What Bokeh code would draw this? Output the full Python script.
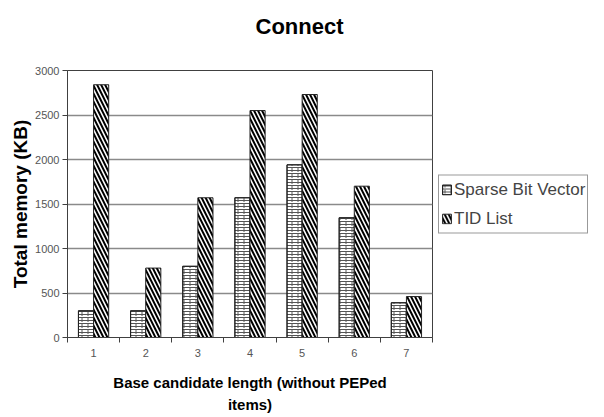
from bokeh.plotting import figure
from bokeh.models import (FixedTicker, Legend, LegendItem, Range1d, Title)
from bokeh.embed import file_html
from bokeh.resources import INLINE
import numpy as np

categories = [1, 2, 3, 4, 5, 6, 7]
tick_labels = ["1", "2", "3", "4", "5", "6", "7"]
sparse_bit_vector = [300, 300, 800, 1570, 1940, 1345, 390]
tid_list = [2840, 780, 1570, 2550, 2730, 1700, 460]
series_names = ["Sparse Bit Vector", "TID List"]
y_ticks = [0, 500, 1000, 1500, 2000, 2500, 3000]
chart_title = "Connect"

FONT = "Liberation Sans"
FW, FH = 365, 267

p = figure(frame_width=FW, frame_height=FH, output_backend="svg",
           toolbar_location=None,
           x_range=Range1d(0.5, 7.5), y_range=Range1d(0, 3000),
           min_border_left=67, min_border_right=172, min_border_top=70,
           min_border_bottom=80)
p.title = None
p.add_layout(Title(text=chart_title + "\n ", text_font=FONT,
                   text_font_size="22px", text_font_style="bold",
                   align="left", offset=188, standoff=14,
                   vertical_align="bottom", text_color="black"), "above")

cats = np.array(categories, dtype=float)
bw = 0.29
r1 = p.vbar(x=cats - bw / 2, top=sparse_bit_vector, width=bw,
            fill_color="white", line_color="#222222", line_width=1,
            hatch_pattern="horizontal_line", hatch_scale=3, hatch_weight=1,
            hatch_color="#555555")
r1b = p.vbar(x=cats - bw / 2, top=sparse_bit_vector, width=bw,
             fill_alpha=0, line_color="#222222", line_width=1,
             hatch_pattern="vertical_dash", hatch_scale=6, hatch_weight=1,
             hatch_color="#555555")
r2 = p.vbar(x=cats + bw / 2, top=tid_list, width=bw,
            fill_color="white", line_color="#222222", line_width=1,
            hatch_pattern="left_diagonal_line", hatch_scale=8, hatch_weight=2,
            hatch_color="black")

p.xgrid.visible = False
p.ygrid.grid_line_color = "#8a8a8a"
p.ygrid.grid_line_width = 1.5
p.ygrid.ticker = FixedTicker(ticks=y_ticks)
p.outline_line_color = "#404040"
p.outline_line_width = 1

xa = p.xaxis[0]
xa.ticker = FixedTicker(ticks=categories, minor_ticks=[c - 0.5 for c in categories] + [7.5])
xa.major_label_overrides = {c: t for c, t in zip(categories, tick_labels)}
xa.major_tick_out = 0
xa.major_tick_in = 0
xa.minor_tick_out = 5
xa.minor_tick_in = 0
xa.minor_tick_line_color = "#404040"
xa.axis_line_color = "#404040"
xa.major_label_text_font = FONT
xa.major_label_text_font_size = "11px"
xa.major_label_text_color = "#555555"
xa.major_label_standoff = 6
xa.axis_label = "Base candidate length (without PEPed\nitems)"
xa.axis_label_text_font = FONT
xa.axis_label_text_font_size = "15px"
xa.axis_label_text_font_style = "bold"
xa.axis_label_text_color = "black"
xa.axis_label_text_line_height = 1.35
xa.axis_label_standoff = 14

ya = p.yaxis[0]
ya.ticker = FixedTicker(ticks=y_ticks)
ya.major_tick_out = 5
ya.major_tick_in = 0
ya.minor_tick_out = 0
ya.minor_tick_in = 0
ya.axis_line_color = "#404040"
ya.major_tick_line_color = "#404040"
ya.major_label_text_font = FONT
ya.major_label_text_font_size = "11px"
ya.major_label_text_color = "#555555"
ya.major_label_standoff = 3
ya.axis_label = "Total memory (KB)"
ya.axis_label_text_font = FONT
ya.axis_label_text_font_size = "19px"
ya.axis_label_text_font_style = "bold"
ya.axis_label_text_color = "black"
ya.axis_label_standoff = 1

legend = Legend(items=[LegendItem(label=series_names[0], renderers=[r1, r1b]),
                       LegendItem(label=series_names[1], renderers=[r2])],
                location="center_left", margin=6, padding=2, spacing=5,
                label_text_font=FONT, label_text_font_size="17px",
                label_height=24, glyph_width=11, glyph_height=12,
                label_standoff=2, border_line_color="#333333",
                border_line_width=1, background_fill_color="white")
p.add_layout(legend, "right")

open("out.html", "w").write(file_html(p, INLINE))
